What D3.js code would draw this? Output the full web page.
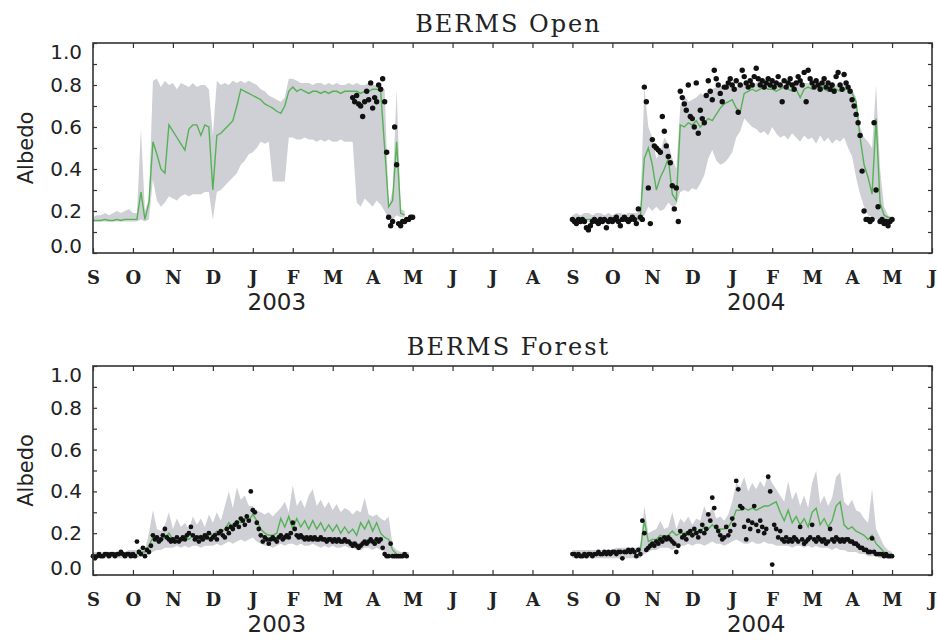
<!DOCTYPE html>
<html>
<head>
<meta charset="utf-8">
<script src="https://cdn.jsdelivr.net/npm/d3@7"></script>
<style>
body { margin: 0; background: #fff; }
</style>
</head>
<body>
<svg></svg>
<script>
// month ticks, one every month from Sep 2002 to Jun 2004 (x unit = months since 1 Sep 2002)
var months = ["S","O","N","D","J","F","M","A","M","J","J","A","S","O","N","D","J","F","M","A","M","J"]
var yearLabels = ["2003", "2004"]
var yearPos = [4.6, 16.6]
var yTicks = [0, 0.2, 0.4, 0.6, 0.8, 1.0]

// band + model line sampled every 0.1 month, dots every 0.05 month
var bandStep = 0.1
var dotStep = 0.05

// ---- BERMS Open, winter 2002/03 (starts at month 0)
var openLo1 = [0.15,0.15,0.15,0.15,0.15,0.15,0.15,0.15,0.15,0.15,0.15,0.15,
  0.16,0.15,0.16,0.35,0.25,0.22,0.24,0.27,0.26,0.25,0.27,0.28,0.27,0.28,0.28,0.28,0.29,0.29,
  0.16,0.29,0.30,0.32,0.34,0.36,0.38,0.42,0.44,0.47,0.48,0.50,0.53,0.52,0.53,0.34,0.34,0.34,0.34,
  0.55,0.55,0.54,0.54,0.55,0.54,0.54,0.53,0.54,0.53,0.54,0.53,0.53,0.54,0.53,0.53,0.53,
  0.24,0.22,0.26,0.24,0.22,0.25,0.23,0.20,0.16,0.16,0.18,0.17,0.17]
var openHi1 = [0.17,0.18,0.18,0.19,0.18,0.19,0.20,0.19,0.20,0.21,0.19,0.19,
  0.59,0.20,0.26,0.82,0.83,0.79,0.82,0.80,0.81,0.78,0.81,0.80,0.79,0.81,0.79,0.80,0.80,0.78,
  0.56,0.82,0.80,0.81,0.80,0.82,0.81,0.82,0.81,0.82,0.81,0.80,0.78,0.77,0.75,0.74,0.73,0.72,0.74,
  0.83,0.83,0.82,0.81,0.81,0.81,0.80,0.81,0.81,0.80,0.81,0.80,0.81,0.80,0.80,0.81,0.80,
  0.81,0.80,0.80,0.81,0.80,0.80,0.79,0.78,0.22,0.30,0.78,0.21,0.20]
var openMid1 = [0.155,0.155,0.155,0.16,0.155,0.155,0.16,0.155,0.16,0.16,0.16,0.16,
  0.29,0.16,0.24,0.53,0.47,0.40,0.38,0.61,0.58,0.55,0.52,0.49,0.59,0.61,0.61,0.56,0.61,0.60,
  0.30,0.56,0.57,0.59,0.61,0.63,0.70,0.78,0.77,0.76,0.75,0.74,0.73,0.71,0.70,0.69,0.675,0.665,0.70,
  0.77,0.79,0.77,0.78,0.77,0.76,0.77,0.77,0.76,0.77,0.76,0.77,0.77,0.76,0.77,0.77,0.77,
  0.77,0.76,0.77,0.77,0.78,0.78,0.77,0.50,0.22,0.25,0.53,0.19,0.18]
var openDots1Start = 6.5
var openDots1 = [0.74,0.72,0.75,0.71,0.70,0.65,0.72,0.77,0.73,0.81,0.69,0.74,0.72,0.80,0.78,0.83,
  0.72,0.48,0.17,0.13,0.15,0.60,0.42,0.14,0.13,0.15,0.15,0.16,0.16,0.17,0.17]

// ---- BERMS Open, winter 2003/04 (starts at month 12)
var openLo2 = [0.14,0.15,0.14,0.15,0.15,0.14,0.15,0.15,0.14,0.15,0.15,0.14,0.15,0.15,0.14,0.15,0.15,0.15,
  0.18,0.22,0.20,0.22,0.20,0.21,0.24,0.22,0.23,0.29,0.30,0.29,0.31,0.30,0.33,0.37,0.45,0.49,0.44,0.42,0.43,0.45,0.48,0.55,0.58,0.64,
  0.62,0.60,0.59,0.57,0.58,0.56,0.60,0.57,0.55,0.56,0.54,0.57,0.55,0.53,0.56,0.54,0.55,0.52,0.56,0.53,0.55,0.52,0.54,0.53,0.55,0.50,
  0.46,0.36,0.28,0.22,0.18,0.17,0.16,0.16,0.15,0.15,0.15]
var openHi2 = [0.18,0.19,0.18,0.19,0.19,0.18,0.19,0.19,0.18,0.19,0.18,0.19,0.19,0.18,0.19,0.19,0.19,0.20,
  0.79,0.60,0.55,0.45,0.48,0.55,0.52,0.45,0.40,0.70,0.75,0.72,0.73,0.74,0.76,0.75,0.77,0.78,0.79,0.79,0.80,0.80,0.80,0.79,0.80,0.81,
  0.81,0.80,0.81,0.82,0.81,0.80,0.81,0.82,0.81,0.80,0.81,0.81,0.82,0.80,0.81,0.81,0.80,0.81,0.82,0.81,0.80,0.81,0.80,0.81,0.80,0.80,
  0.78,0.74,0.60,0.55,0.53,0.50,0.80,0.40,0.22,0.18,0.17]
var openMid2 = [0.16,0.16,0.16,0.16,0.16,0.16,0.16,0.16,0.16,0.16,0.16,0.16,0.16,0.16,0.16,0.16,0.16,0.17,
  0.45,0.50,0.42,0.30,0.36,0.40,0.45,0.28,0.25,0.61,0.60,0.62,0.61,0.63,0.60,0.62,0.64,0.63,0.66,0.69,0.71,0.72,0.73,0.69,0.67,0.76,
  0.77,0.78,0.77,0.78,0.79,0.78,0.78,0.77,0.78,0.79,0.78,0.77,0.78,0.74,0.78,0.79,0.78,0.79,0.80,0.78,0.77,0.79,0.78,0.77,0.78,0.78,
  0.76,0.72,0.55,0.42,0.36,0.28,0.64,0.24,0.18,0.17,0.16]
var openDots2 = [0.16,0.15,0.14,0.16,0.15,0.16,0.15,0.12,0.11,0.13,0.15,0.16,0.15,0.14,0.16,0.15,0.16,0.12,
  0.15,0.16,0.15,0.16,0.17,0.15,0.13,0.16,0.17,0.16,0.15,0.16,0.17,0.16,0.14,0.21,0.17,0.16,
  0.79,0.72,0.31,0.14,0.54,0.51,0.50,0.49,0.48,0.65,0.58,0.51,0.46,0.43,0.32,0.21,0.31,0.15,
  0.77,0.74,0.71,0.68,0.80,0.65,0.64,0.60,0.81,0.57,
  0.68,0.64,0.62,0.75,0.82,0.77,0.73,0.87,0.83,0.80,
  0.76,0.72,0.79,0.79,0.81,0.83,0.80,0.78,0.82,0.67,
  0.80,0.87,0.84,0.81,0.79,0.82,0.80,0.84,0.88,0.83,
  0.80,0.82,0.79,0.81,0.83,0.80,0.82,0.79,0.81,0.84,
  0.80,0.72,0.82,0.79,0.81,0.83,0.80,0.78,0.81,0.84,
  0.82,0.80,0.86,0.72,0.87,0.83,0.81,0.79,0.82,0.80,
  0.78,0.81,0.83,0.79,0.81,0.78,0.80,0.77,0.84,0.86,
  0.80,0.78,0.85,0.81,0.79,0.77,0.73,0.70,0.66,0.62,
  0.56,0.39,0.20,0.16,0.16,0.15,0.16,0.62,0.30,0.22,
  0.15,0.16,0.14,0.15,0.13,0.15,0.16]

// ---- BERMS Forest, winter 2002/03
var forestLo1 = [0.08,0.08,0.08,0.08,0.08,0.08,0.08,0.08,0.08,0.08,0.08,0.08,0.09,0.09,
  0.10,0.11,0.12,0.12,0.13,0.13,0.13,0.14,0.13,0.14,0.13,0.14,0.14,0.13,0.14,0.14,
  0.14,0.15,0.14,0.15,0.16,0.15,0.16,0.17,0.16,0.17,0.18,0.16,0.15,0.14,0.14,0.13,0.14,0.15,0.14,0.15,
  0.15,0.14,0.15,0.14,0.14,0.15,0.14,0.13,0.14,0.13,0.14,0.13,0.13,0.14,0.13,0.13,0.12,0.12,0.13,0.13,
  0.12,0.13,0.12,0.11,0.10,0.09,0.08,0.08,0.08,0.08]
var forestHi1 = [0.11,0.11,0.11,0.11,0.11,0.11,0.11,0.12,0.11,0.12,0.12,0.12,0.13,0.12,
  0.20,0.31,0.22,0.21,0.24,0.30,0.22,0.27,0.23,0.25,0.22,0.28,0.24,0.27,0.23,0.29,
  0.25,0.30,0.26,0.33,0.40,0.32,0.42,0.36,0.38,0.33,0.33,0.31,0.30,0.29,0.30,0.28,0.30,0.32,0.35,0.30,
  0.43,0.33,0.36,0.32,0.38,0.41,0.33,0.36,0.32,0.35,0.31,0.34,0.30,0.32,0.31,0.29,0.31,0.30,0.37,0.29,
  0.28,0.29,0.27,0.26,0.28,0.14,0.12,0.11,0.11,0.11]
var forestMid1 = [0.095,0.095,0.095,0.10,0.10,0.10,0.10,0.10,0.10,0.10,0.10,0.10,0.11,0.11,
  0.14,0.18,0.17,0.16,0.18,0.20,0.17,0.18,0.17,0.18,0.17,0.19,0.18,0.19,0.18,0.20,
  0.19,0.21,0.20,0.22,0.25,0.23,0.26,0.25,0.27,0.26,0.29,0.26,0.22,0.20,0.19,0.19,0.20,0.27,0.23,0.28,
  0.22,0.27,0.23,0.26,0.22,0.26,0.22,0.25,0.21,0.24,0.21,0.24,0.20,0.23,0.20,0.22,0.19,0.25,0.22,0.26,
  0.21,0.25,0.20,0.18,0.17,0.12,0.10,0.09,0.09,0.09]
var forestDots1 = [0.09,0.08,0.09,0.10,0.09,0.09,0.10,0.10,0.09,0.10,0.10,0.09,0.10,0.10,0.11,0.10,0.09,0.10,0.10,0.09,
  0.10,0.09,0.16,0.11,0.10,0.13,0.09,0.12,0.11,0.14,
  0.19,0.17,0.18,0.16,0.17,0.19,0.22,0.18,0.17,0.16,
  0.17,0.16,0.18,0.16,0.17,0.18,0.17,0.19,0.20,0.23,
  0.19,0.17,0.18,0.16,0.18,0.17,0.19,0.18,0.20,0.17,
  0.18,0.19,0.17,0.20,0.21,0.19,0.18,0.22,0.20,0.23,
  0.22,0.24,0.25,0.23,0.27,0.26,0.24,0.28,0.26,0.40,
  0.31,0.30,0.25,0.22,0.19,0.16,0.18,0.17,0.15,0.17,
  0.18,0.17,0.16,0.18,0.19,0.17,0.18,0.19,0.18,0.20,
  0.25,0.22,0.19,0.18,0.19,0.18,0.17,0.18,0.17,0.18,
  0.17,0.18,0.17,0.17,0.18,0.17,0.17,0.16,0.17,0.17,
  0.16,0.17,0.16,0.17,0.16,0.16,0.17,0.16,0.16,0.15,
  0.14,0.15,0.14,0.13,0.14,0.15,0.16,0.15,0.16,0.17,
  0.16,0.15,0.17,0.16,0.17,0.13,0.10,0.09,0.09,0.15,
  0.09,0.09,0.09,0.09,0.09,0.09,0.10,0.09]

// ---- BERMS Forest, winter 2003/04
var forestLo2 = [0.08,0.08,0.08,0.08,0.08,0.08,0.08,0.08,0.08,0.08,0.08,0.08,0.08,0.08,0.08,0.08,0.08,0.08,
  0.10,0.11,0.12,0.12,0.13,0.13,0.13,0.12,0.13,0.14,0.14,0.15,0.14,0.15,0.15,0.14,0.15,0.16,0.15,0.15,0.14,0.15,0.16,0.17,0.16,0.15,
  0.15,0.16,0.15,0.15,0.16,0.15,0.15,0.14,0.14,0.14,0.14,0.13,0.14,0.14,0.13,0.14,0.13,0.14,0.13,0.13,0.13,0.12,0.13,0.12,0.12,0.11,
  0.11,0.11,0.10,0.10,0.09,0.09,0.09,0.08,0.08,0.08,0.08]
var forestHi2 = [0.12,0.12,0.12,0.12,0.12,0.12,0.12,0.12,0.12,0.12,0.12,0.13,0.13,0.13,0.13,0.13,0.13,0.14,
  0.33,0.20,0.21,0.22,0.26,0.22,0.23,0.30,0.22,0.27,0.25,0.28,0.24,0.27,0.26,0.33,0.28,0.33,0.27,0.28,0.26,0.29,0.35,0.44,0.42,0.47,
  0.40,0.44,0.41,0.45,0.42,0.48,0.44,0.41,0.38,0.35,0.45,0.36,0.40,0.33,0.38,0.32,0.44,0.50,0.34,0.38,0.33,0.37,0.47,0.49,0.35,0.33,
  0.36,0.31,0.30,0.27,0.25,0.41,0.22,0.18,0.14,0.12,0.11]
var forestMid2 = [0.10,0.10,0.10,0.10,0.10,0.10,0.10,0.10,0.10,0.10,0.10,0.11,0.11,0.11,0.11,0.11,0.11,0.12,
  0.26,0.16,0.17,0.17,0.19,0.18,0.19,0.21,0.19,0.20,0.20,0.21,0.20,0.21,0.21,0.23,0.22,0.24,0.22,0.22,0.22,0.23,0.26,0.31,0.31,0.32,
  0.31,0.32,0.31,0.32,0.33,0.33,0.34,0.35,0.30,0.26,0.31,0.25,0.28,0.24,0.27,0.23,0.30,0.32,0.24,0.27,0.23,0.26,0.33,0.35,0.24,0.22,
  0.23,0.21,0.20,0.19,0.17,0.19,0.15,0.13,0.11,0.10,0.10]
var forestDots2 = [0.10,0.10,0.09,0.10,0.09,0.09,0.10,0.09,0.10,0.10,0.09,0.10,0.10,0.11,0.10,0.10,0.11,0.10,0.11,0.10,
  0.11,0.11,0.10,0.11,0.11,0.08,0.11,0.11,0.12,0.11,0.12,0.11,0.09,
  0.12,0.10,0.26,0.20,0.12,0.13,
  0.14,0.15,0.14,0.16,0.15,0.17,0.16,0.18,0.17,0.18,
  0.17,0.16,0.15,0.11,0.14,0.21,0.18,0.19,0.17,0.20,
  0.21,0.19,0.22,0.20,0.18,0.21,0.24,0.20,0.22,0.29,
  0.26,0.37,0.32,0.23,0.21,0.19,0.17,0.18,0.23,0.19,
  0.21,0.27,0.24,0.45,0.41,0.33,0.32,0.23,0.17,0.26,
  0.22,0.25,0.33,0.24,0.21,0.26,0.23,0.20,0.22,0.47,
  0.40,0.05,0.24,0.22,0.18,0.21,0.17,0.16,0.18,0.16,
  0.17,0.16,0.18,0.17,0.16,0.23,0.17,0.15,0.16,0.17,
  0.18,0.24,0.17,0.16,0.18,0.17,0.16,0.17,0.15,0.16,
  0.22,0.17,0.16,0.18,0.17,0.16,0.17,0.16,0.17,0.17,
  0.16,0.16,0.15,0.15,0.14,0.13,0.13,0.12,0.12,0.11,
  0.11,0.175,0.11,0.10,0.10,0.10,0.10,0.09,0.10,0.09,0.09,0.09]

var width = 937
var height = 643
var bandColor = "#cfcfd6"
var lineColor = "#55b255"

var svg = d3.select("svg")
    .attr("width", width)
    .attr("height", height)
    .style("font-family", "DejaVu Sans")

var x = d3.scaleLinear().domain([0, 21]).range([93, 932])

var panels = [
  { title: "BERMS Open", top: 43, bottom: 253, r: 2.7,
    seasons: [
      { start: 0, lo: openLo1, hi: openHi1, mid: openMid1, dotStart: openDots1Start, dots: openDots1 },
      { start: 12, lo: openLo2, hi: openHi2, mid: openMid2, dotStart: 12, dots: openDots2 }
    ] },
  { title: "BERMS Forest", top: 366, bottom: 575, r: 2.4,
    seasons: [
      { start: 0, lo: forestLo1, hi: forestHi1, mid: forestMid1, dotStart: 0, dots: forestDots1 },
      { start: 12, lo: forestLo2, hi: forestHi2, mid: forestMid2, dotStart: 12, dots: forestDots2 }
    ] }
]

panels.forEach(function(p) {
    var y = d3.scaleLinear().domain([0, 1]).range([p.bottom, p.top])
    var g = svg.append("g")

    p.seasons.forEach(function(s) {
        var rows = s.lo.map(function(v, i) {
            return { m: s.start + i * bandStep, lo: v, hi: s.hi[i], mid: s.mid[i] }
        })

        //grey envelope
        g.append("path")
            .datum(rows)
            .attr("fill", bandColor)
            .attr("d", d3.area()
                .x(function(d) { return x(d.m) })
                .y0(function(d) { return y(d.lo) })
                .y1(function(d) { return y(d.hi) }))

        //green model line
        g.append("path")
            .datum(rows)
            .attr("fill", "none")
            .attr("stroke", lineColor)
            .attr("stroke-width", 1.4)
            .attr("d", d3.line()
                .x(function(d) { return x(d.m) })
                .y(function(d) { return y(d.mid) }))

        //observed albedo
        g.append("g")
            .selectAll("circle")
            .data(s.dots)
            .enter().append("circle")
            .attr("cx", function(d, i) { return x(s.dotStart + i * dotStep) })
            .attr("cy", function(d) { return y(d) })
            .attr("r", p.r)
            .attr("fill", "#111")
    })

    // axes, ticks pointing inward
    var bottomAxis = d3.axisBottom(x)
        .tickValues(d3.range(months.length))
        .tickFormat(function(i) { return months[i] })
        .tickSizeInner(-5).tickSizeOuter(0).tickPadding(18)
    var ax = g.append("g")
        .attr("transform", "translate(0," + p.bottom + ")")
        .call(bottomAxis)
    ax.selectAll("text")
        .style("font-family", "DejaVu Serif")
        .style("font-weight", "bold")
        .style("font-size", "18px")
        .attr("fill", "#222")

    g.append("g")
        .attr("transform", "translate(0," + p.top + ")")
        .call(d3.axisTop(x).tickValues(d3.range(months.length)).tickFormat("").tickSizeInner(-5).tickSizeOuter(0))

    var minor = d3.range(0, 11).map(function(k) { return k / 10 })
    var ay = g.append("g")
        .attr("transform", "translate(" + x(0) + ",0)")
        .call(d3.axisLeft(y).tickValues(minor).tickSizeInner(-4).tickSizeOuter(0).tickPadding(11)
            .tickFormat(function(v) { return yTicks.some(function(t) { return Math.abs(t - v) < 1e-6 }) ? d3.format(".1f")(v) : "" }))
    ay.selectAll("text")
        .style("font-family", "DejaVu Sans")
        .style("font-size", "20px")
        .attr("fill", "#222")
        .attr("dy", function(v) { return v === 0 ? "-0.05em" : (v === 1 ? "0.75em" : "0.32em") })

    g.append("g")
        .attr("transform", "translate(" + x(21) + ",0)")
        .call(d3.axisRight(y).tickValues(minor).tickFormat("").tickSizeInner(-4).tickSizeOuter(0))

    g.selectAll(".domain").remove()
    g.selectAll(".tick line").attr("stroke", "#333").attr("stroke-width", 1.2)

    //frame
    g.append("rect")
        .attr("x", x(0))
        .attr("y", p.top)
        .attr("width", x(21) - x(0))
        .attr("height", p.bottom - p.top)
        .attr("fill", "none")
        .attr("stroke", "#333")
        .attr("stroke-width", 1.6)

    g.append("text")
        .attr("x", (x(0) + x(21)) / 2 - 4)
        .attr("y", p.top - 11)
        .attr("text-anchor", "middle")
        .style("font-family", "DejaVu Serif")
        .style("font-size", "24px")
        .style("letter-spacing", "2px")
        .attr("fill", "#222")
        .text(p.title)

    g.append("text")
        .attr("transform", "translate(33," + (p.top + p.bottom) / 2 + ") rotate(-90)")
        .attr("text-anchor", "middle")
        .style("font-size", "21px")
        .attr("fill", "#222")
        .text("Albedo")

    g.selectAll(".year")
        .data(yearLabels)
        .enter().append("text")
        .attr("class", "year")
        .attr("x", function(d, i) { return x(yearPos[i]) })
        .attr("y", p.bottom + 57)
        .attr("text-anchor", "middle")
        .style("font-size", "23px")
        .attr("fill", "#222")
        .text(function(d) { return d })
})
</script>
</body>
</html>
